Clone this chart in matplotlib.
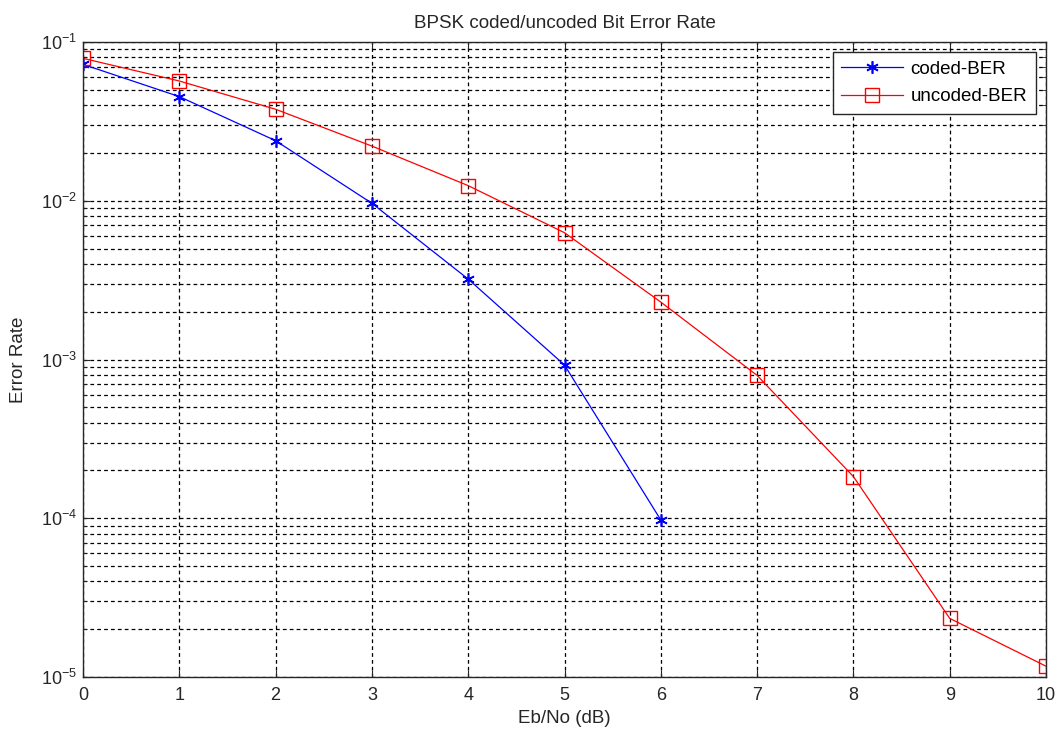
import numpy as np
import matplotlib
matplotlib.use('Agg')
import matplotlib.pyplot as plt
from matplotlib.ticker import LogLocator, NullFormatter, FuncFormatter

plt.rcParams['font.family'] = ['Liberation Sans', 'DejaVu Sans']
plt.rcParams['mathtext.fontset'] = 'custom'
plt.rcParams['mathtext.rm'] = 'Liberation Sans'
plt.rcParams['mathtext.it'] = 'Liberation Sans:italic'
plt.rcParams['mathtext.bf'] = 'Liberation Sans:bold'

# Eb/No points and BER values
ebno_coded = [0, 1, 2, 3, 4, 5, 6]
ber_coded = [0.0723, 0.0453, 0.0239, 0.00964, 0.00321, 0.000923, 9.75e-5]

ebno_uncoded = [0, 1, 2, 3, 4, 5, 6, 7, 8, 9, 10]
ber_uncoded = [0.0789, 0.0568, 0.0377, 0.0221, 0.01245, 0.00629, 0.0023,
               0.000794, 0.000183, 2.34e-5, 1.17e-5]

txt = '#262626'

fig = plt.figure(figsize=(10.59, 7.31), dpi=100)
ax = fig.add_axes([83/1059, 1 - 677/731, (1046 - 83)/1059, (677 - 42)/731])

# MATLAB-style asterisk marker
ax.semilogy(ebno_coded, ber_coded, color='blue', marker=(6, 2, 0), markersize=9,
            markeredgewidth=1.2, linewidth=0.9, label='coded-BER')
ax.semilogy(ebno_uncoded, ber_uncoded, color='red', marker='s', markersize=10,
            markerfacecolor='none', markeredgewidth=1, linewidth=0.9,
            label='uncoded-BER')

ax.set_xlim(0, 10)
ax.set_ylim(1e-5, 1e-1)
ax.set_xticks(range(0, 11))
ax.yaxis.set_major_locator(LogLocator(base=10, numticks=10))
ax.yaxis.set_major_formatter(FuncFormatter(
    lambda v, p: r'$\mathregular{10^{%d}}$' % int(round(np.log10(v)))))
ax.yaxis.set_minor_locator(LogLocator(base=10, subs=np.arange(2, 10), numticks=20))
ax.yaxis.set_minor_formatter(NullFormatter())

grid_style = dict(color='black', linestyle=(0, (3, 2.5)), linewidth=0.9)
ax.grid(True, which='major', axis='both', **grid_style)
ax.grid(True, which='minor', axis='y', **grid_style)

ax.tick_params(which='both', direction='in', top=True, right=True,
               labelsize=13, colors=txt, labelcolor=txt)
ax.tick_params(which='major', length=5)
ax.tick_params(which='minor', length=3)
ax.tick_params(axis='x', pad=7)
ax.tick_params(axis='y', pad=4)
for sp in ax.spines.values():
    sp.set_color(txt)
    sp.set_linewidth(1)

ax.set_title('BPSK coded/uncoded Bit Error Rate', fontsize=13.5, color=txt, pad=10)
ax.set_xlabel('Eb/No (dB)', fontsize=13.5, color=txt)
ax.set_ylabel('Error Rate', fontsize=13.5, color=txt)
ax.xaxis.set_label_coords(0.5, -0.052)
ax.yaxis.set_label_coords(-0.058, 0.5)

leg = ax.legend(loc='upper right', fontsize=13.5, fancybox=False, framealpha=1,
                edgecolor=txt, borderaxespad=0.55, handlelength=3.3,
                handletextpad=0.4, borderpad=0.45, labelspacing=0.55)
leg.get_frame().set_linewidth(1)

fig.savefig('out.png', dpi=100)
